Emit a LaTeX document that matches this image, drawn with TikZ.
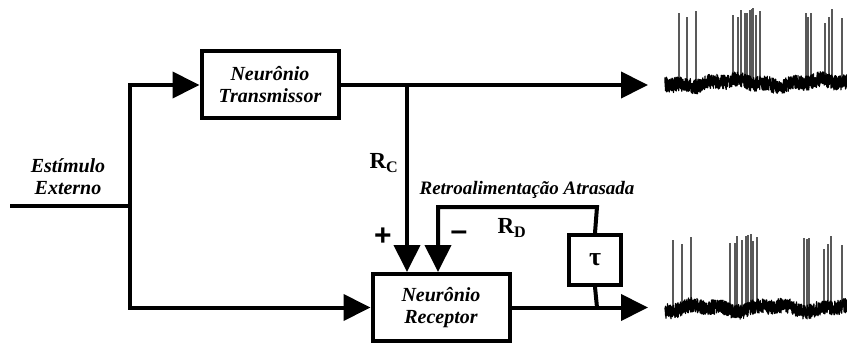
\documentclass[tikz,border=0pt]{standalone}
\usepackage{fontspec}
\setmainfont{Liberation Serif}
\newfontfamily\signfont{Liberation Sans}
\usetikzlibrary{arrows.meta}

\begin{document}
\pgfmathsetseed{4711}
\begin{tikzpicture}[
  x=1pt,
  y=-1pt,
  every node/.style={font=\bfseries\itshape\fontsize{20}{22}\selectfont, align=center, inner sep=0pt},
  block/.style={
    draw,
    line width=4pt,
    minimum width=137pt,
    minimum height=67pt
  },
  delay/.style={
    draw,
    line width=4pt,
    minimum width=52pt,
    minimum height=50pt
  },
  wire/.style={line width=4pt},
  arrow/.style={line width=4pt, -{Triangle[length=27pt,width=26pt]}},
  sign/.style={font=\signfont\bfseries\fontsize{30}{30}\selectfont},
  spike/.style={black!65, line width=1.3pt},
  noise/.style={black, line width=1.2pt, line join=round}
]
\useasboundingbox (0,0) rectangle (847,345);

\node[block] (trans) at (270,85) {Neurônio\\Transmissor};
\node[block] (recv) at (441,307.5) {Neurônio\\Receptor};
\node[delay] (tau) at (595,260) {\upshape\fontsize{26}{26}\selectfont τ};

\coordinate (stim) at (10,206);
\coordinate (split) at (130,206);
\coordinate (out1) at (648,85);
\coordinate (out2) at (648,307.5);
\coordinate (rc) at (407,85);
\coordinate (tap) at (597,307.5);
\coordinate (fbtop) at (597,207);
\coordinate (fbin) at (438,207);

\node (stimlbl) at (68,177) {Estímulo\\Externo};
\node[font=\bfseries\fontsize{23}{23}\selectfont] (rclbl) at (384,163) {R\textsubscript{C}};
\node[font=\bfseries\fontsize{23}{23}\selectfont] (rdlbl) at (512,228) {R\textsubscript{D}};
\node[font=\bfseries\itshape\fontsize{19}{19}\selectfont] (fblbl) at (527,190) {Retroalimentação Atrasada};
\node[sign] (plus) at (383,237) {+};
\node[sign] (minus) at (459,236) {\textendash};

\draw[wire] (stim) -- (split);
\draw[arrow] (split) |- (trans.west);
\draw[arrow] (split) |- (recv.west);
\draw[arrow] (trans.east) -- (out1);
\draw[arrow] (rc) -- (rc |- recv.north);
\draw[arrow] (recv.east) -- (out2);
\draw[wire] (tap) -- (tau.south);
\draw[arrow] (tau.north) -- (fbtop) -- (fbin) -- (fbin |- recv.north);

\coordinate (trace1) at (665,83);
\coordinate (trace2) at (665,308);

\begin{scope}[shift={(trace1)}]
  \foreach \sx/\sh in {14/70, 22/66, 31/72, 68/68, 73/66, 76/73, 80/70, 82/70, 85/73,
                       87/74, 88/75, 91/68, 95/72, 141/70, 143/66, 146/70, 160/60,
                       164/66, 167/74, 177/65}
    \draw[spike] (\sx,2) -- (\sx,-\sh);
  \draw[noise] plot[domain=0:182, samples=1200] (\x, {7.5*rand + 2.5*sin(4*\x) + 1.5*sin(13*\x+40)});
\end{scope}

\begin{scope}[shift={(trace2)}]
  \foreach \sx/\sh in {8/68, 17/64, 26/71, 65/65, 70/65, 72/72, 77/68, 81/72, 83/73,
                       86/74, 88/67, 92/71, 139/70, 142/69, 144/70, 159/59,
                       163/64, 166/72, 177/63}
    \draw[spike] (\sx,2) -- (\sx,-\sh);
  \draw[noise] plot[domain=0:182, samples=1200] (\x, {7.5*rand + 2.5*sin(5*\x+90) + 1.5*sin(11*\x)});
\end{scope}

\end{tikzpicture}
\end{document}
